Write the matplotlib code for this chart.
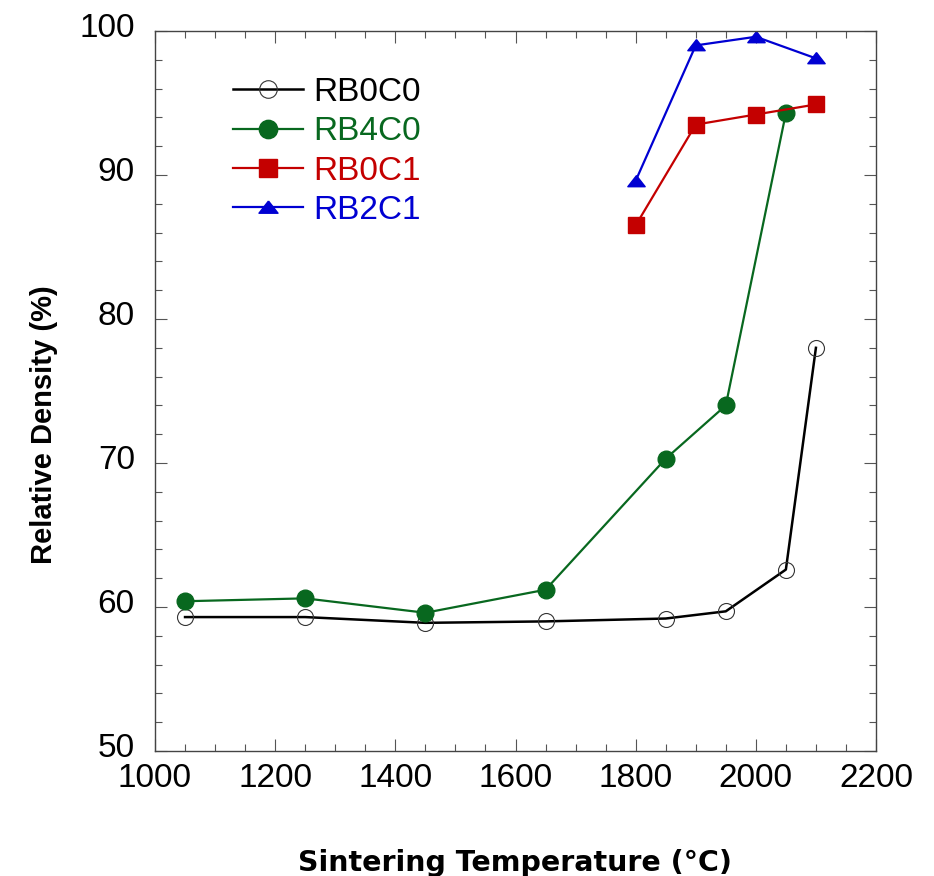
import matplotlib
matplotlib.use("Agg")
import matplotlib.pyplot as plt
import matplotlib.transforms as mtransforms
from matplotlib.ticker import MultipleLocator

plt.rcParams['font.family'] = ['Liberation Sans', 'DejaVu Sans']

# sintering runs
temp_b0 = [1050, 1250, 1450, 1650, 1850, 1950, 2050, 2100]
rb0c0 = [59.3, 59.3, 58.9, 59.0, 59.2, 59.7, 62.6, 78.0]

temp_b4 = [1050, 1250, 1450, 1650, 1850, 1950, 2050]
rb4c0 = [60.4, 60.6, 59.6, 61.2, 70.3, 74.0, 94.3]

temp_c1 = [1800, 1900, 2000, 2100]
rb0c1 = [86.5, 93.5, 94.2, 94.9]
rb2c1 = [89.6, 99.0, 99.6, 98.1]

green = '#08681f'
red = '#c40000'
blue = '#0000d2'

# flat triangle marker
tri = [(0, 0.68), (-1, -0.6), (1, -0.6), (0, 0.68)]

fig = plt.figure(figsize=(9.34, 8.76), dpi=100)
ax = fig.add_axes([155/934, 1 - 751/876, 721/934, 720/876])

ax.plot(temp_b0, rb0c0, color='black', lw=1.8, marker='o', ms=11.5,
        mfc='none', mec='#333333', mew=0.8, label='RB0C0')
ax.plot(temp_b4, rb4c0, color=green, lw=1.6, marker='o', ms=12,
        mfc=green, mec=green, label='RB4C0')
ax.plot(temp_c1, rb0c1, color=red, lw=1.6, marker='s', ms=11.5,
        mfc=red, mec=red, label='RB0C1')
ax.plot(temp_c1, rb2c1, color=blue, lw=1.6, marker=tri, ms=12.5,
        mfc=blue, mec=blue, label='RB2C1')

ax.set_xlim(1000, 2200)
ax.set_ylim(50, 100)
ax.set_xticks(range(1000, 2201, 200))
ax.set_yticks(range(50, 101, 10))
ax.xaxis.set_minor_locator(MultipleLocator(50))
ax.yaxis.set_minor_locator(MultipleLocator(2))

for s in ax.spines.values():
    s.set_color('#444444')
    s.set_linewidth(1.0)

ax.tick_params(which='both', direction='in', top=True, right=True,
               color='#555555', width=0.8, labelsize=24)
ax.tick_params(which='major', length=8.6)
ax.tick_params(which='minor', length=4.7)
ax.tick_params(axis='x', pad=8.5)
ax.tick_params(axis='y', pad=14.5)

# y tick labels sit a little above their ticks
lift = mtransforms.ScaledTranslation(0, 6/100, fig.dpi_scale_trans)
for lab in ax.get_yticklabels():
    lab.set_transform(lab.get_transform() + lift)

ax.set_xlabel('Sintering Temperature (°C)', fontsize=20.5, fontweight='bold',
              family=['DejaVu Sans'])
ax.set_ylabel('Relative Density (%)', fontsize=21, fontweight='bold')
ax.xaxis.set_label_coords(0.5, -0.136)
ax.yaxis.set_label_coords(-0.135, 0.453)

ax.legend(loc='upper left', bbox_to_anchor=(0.108, 0.936), frameon=False,
          fontsize=24, handlelength=2.1, handletextpad=0.3, labelspacing=0.25,
          borderpad=0, borderaxespad=0, labelcolor='linecolor',
          markerscale=1.1)

fig.savefig('out.png', dpi=100)
